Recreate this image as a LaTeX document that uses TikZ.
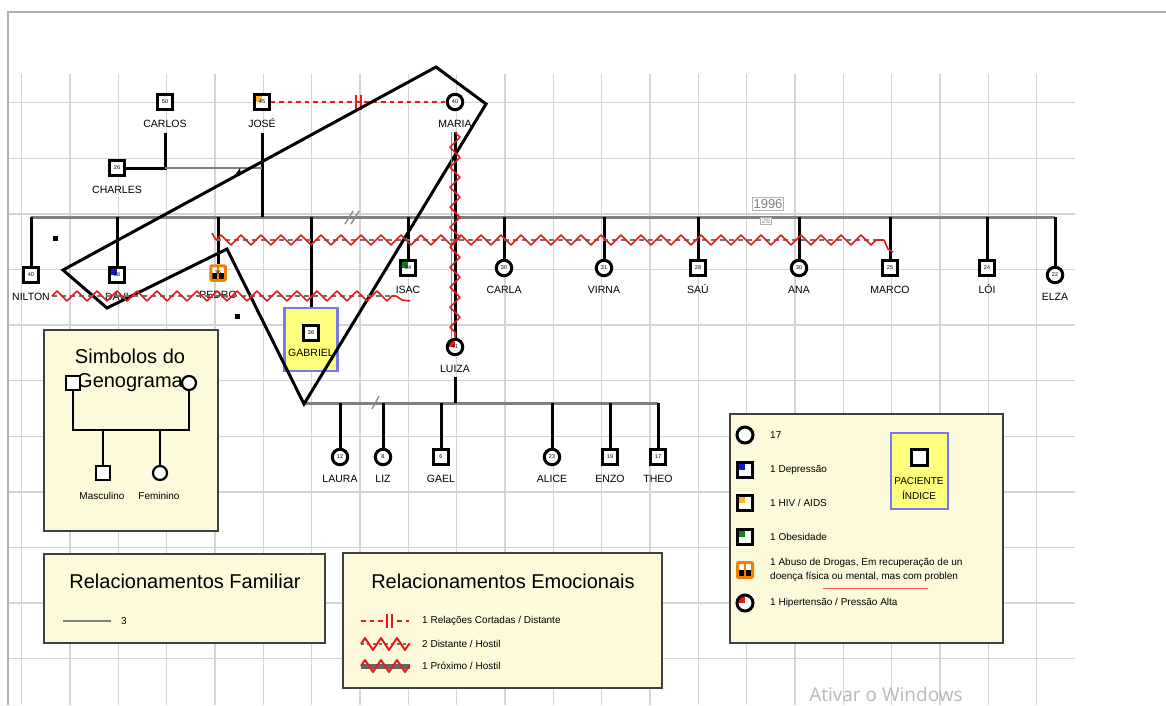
\documentclass[tikz,border=0pt]{standalone}
\usepackage{fontspec}
\setmainfont{Liberation Sans}
\newfontfamily\winfont{Open Sans}
\usetikzlibrary{positioning,decorations.pathmorphing}
\definecolor{cream}{RGB}{253,250,220}
\definecolor{hostred}{RGB}{226,28,28}
\definecolor{hivorange}{RGB}{252,186,40}
\definecolor{drugorange}{RGB}{240,128,8}
\definecolor{deprblue}{RGB}{20,20,210}
\definecolor{obgreen}{RGB}{16,130,30}
\definecolor{idxyellow}{RGB}{255,255,125}
\definecolor{idxblue}{RGB}{120,120,235}
\begin{document}
\begin{tikzpicture}[x=1pt, y=-1pt, font=\fontsize{10}{12}\selectfont,
    gridline/.style={black!17, line width=1.3pt},
    man/.style={draw, line width=3pt, minimum size=14.5pt, inner sep=0pt, fill=white, font=\fontsize{5.5}{5.5}\selectfont},
    woman/.style={man, circle, minimum size=15.5pt},
    quad/.style={path picture={\fill[#1] (path picture bounding box.north west) rectangle (path picture bounding box.center);}},
    manblue/.style={man, quad=deprblue},
    manhiv/.style={man, quad=hivorange},
    mangreen/.style={man, quad=obgreen},
    womanred/.style={woman, quad=hostred},
    drugman/.style={man, draw=drugorange, rounded corners=1pt, path picture={
        \fill[black] (path picture bounding box.west) rectangle (path picture bounding box.south east);
        \draw[drugorange, line width=1.4pt] (path picture bounding box.north) -- (path picture bounding box.south);}},
    lbl/.style={inner sep=1pt, text height=7pt, text depth=0pt, font=\fontsize{10.5}{12}\selectfont},
    child/.style={line width=3pt},
    famline/.style={black!50, line width=3pt},
    zz/.style={decorate, decoration={zigzag, segment length=20pt, amplitude=5pt}},
    hostline/.style={hostred, line width=1.6pt, line join=round},
    distdash/.style={black!55, line width=1.8pt, dash pattern=on 5pt off 4pt},
    cutline/.style={hostred, line width=2.4pt, dash pattern=on 4.5pt off 4pt},
    legbox/.style={draw=black!75, fill=cream, line width=1.3pt, inner sep=0pt},
    idxbox/.style={draw=idxblue, fill=idxyellow, line width=2.8pt, inner sep=0pt},
    title/.style={inner sep=0pt, font=\fontsize{20}{24}\selectfont},
    note/.style={anchor=west, inner sep=0pt, font=\fontsize{10}{14}\selectfont},
    legman/.style={draw, line width=2.2pt, minimum size=14pt, inner sep=0pt, fill=white},
    legwoman/.style={legman, circle}]
  \useasboundingbox (0,0) rectangle (1166,705);
  \fill[white] (0,0) rectangle (1166,705);
  \foreach \k in {0,...,21}
    \draw[gridline] ({21.7+48.33*\k},74) -- ({21.7+48.33*\k},705);
  \foreach \j in {0,...,10}
    \draw[gridline] (8,{102.7+55.6*\j}) -- (1075,{102.7+55.6*\j});
  \draw[black!30, line width=1.5pt] (8,705) -- (8,12) -- (1166,12);

  \node[legbox, minimum width=174pt, minimum height=201pt] (symbox) at (131,430.5) {};
  \node[title] (symt1) at (130,356) {Simbolos do};
  \node[title] (symt2) at (130,383) {Genograma};
  \node[legman] (lgM) at (73,383) {};
  \node[legwoman] (lgF) at (189,383) {};
  \node[legman] (lgm) at (103,473) {};
  \node[legwoman] (lgf) at (160,473) {};
  \coordinate (lgbar) at (130,430);
  \draw[line width=2.2pt] (lgM.south) -- (lgM |- lgbar) -- (lgF |- lgbar) -- (lgF.south);
  \draw[line width=2.2pt] (lgm.north) -- (lgm |- lgbar) (lgf.north) -- (lgf |- lgbar);
  \node[font=\fontsize{10}{12}\selectfont] (lgmt) at (102,496) {Masculino};
  \node[font=\fontsize{10}{12}\selectfont] (lgft) at (159,496) {Feminino};

  \node[legbox, minimum width=281pt, minimum height=89pt] (fambox) at (184.5,598.5) {};
  \node[title] (famt) at (185,581) {Relacionamentos Familiar};
  \coordinate (famk) at (63,621);
  \node[note] (famn) at (121,621) {3};
  \draw[black!50, line width=2.6pt] (famk) -- ++(48,0);

  \node[legbox, minimum width=319pt, minimum height=135pt] (emobox) at (502.5,620.5) {};
  \node[title] (emot) at (503,581) {Relacionamentos Emocionais};
  \draw[cutline] (361,621) -- (383,621) (397,621) -- (409,621);
  \draw[hostred, line width=1.8pt] (387,614) -- (387,628) (392,614) -- (392,628);
  \node[note] (emo1) at (422,621) {1 Relações Cortadas / Distante};
  \draw[distdash, dash pattern=on 3pt off 3pt] (361,644) -- (410,644);
  \draw[hostline, line width=2pt, decorate, decoration={zigzag, segment length=16pt, amplitude=6pt}] (361,644) -- (410,644);
  \node[note] (emo2) at (422,644) {2 Distante / Hostil};
  \draw[black!60, line width=5pt] (361,666) -- (410,666);
  \draw[hostline, line width=2pt, decorate, decoration={zigzag, segment length=16pt, amplitude=6pt}] (361,666) -- (410,666);
  \node[note] (emo3) at (422,666) {1 Próximo / Hostil};

  \node[legbox, minimum width=273pt, minimum height=229pt] (disbox) at (866.5,528.5) {};
  \node[woman, minimum size=16pt] (lw) at (745,435) {};
  \node[note] (lwt) at (770,435) {17};
  \node[manblue, minimum size=15pt] (lb) at (745,470) {};
  \node[note] (lbt) at (770,470) {1 Depressão};
  \node[manhiv, minimum size=15pt] (lh) at (745,503) {};
  \node[note] (lht) at (770,503) {1 HIV / AIDS};
  \node[mangreen, minimum size=15pt] (lg) at (745,537) {};
  \node[note] (lgt) at (770,537) {1 Obesidade};
  \node[drugman, minimum size=15pt] (ld) at (745,570) {};
  \node[note, align=left] (ldt) at (770,570) {1 Abuso de Drogas, Em recuperação de un\\doença física ou mental, mas com problen};
  \draw[red!65, line width=0.9pt] (823,588) -- (928,588);
  \node[womanred, minimum size=16pt] (lr) at (745,603) {};
  \node[note] (lrt) at (770,603) {1 Hipertensão / Pressão Alta};
  \node[idxbox, minimum width=57pt, minimum height=76pt] (idx) at (919.5,471) {};
  \node[man, minimum size=16pt] (idxm) at (919,457) {};
  \node[font=\fontsize{10}{12}\selectfont, inner sep=0pt] (idxt1) at (919,481) {PACIENTE};
  \node[font=\fontsize{10}{12}\selectfont, inner sep=0pt] (idxt2) at (919,495) {ÍNDICE};

  \node[idxbox, minimum width=53pt, minimum height=63pt] (gbox) at (311,339.5) {};
  \node[man] (gabriel) at (311,333) {36};
  \node[lbl, below=7pt of gabriel] (gabriel-t) {GABRIEL};
  \foreach \pn/\x/\y/\st/\ag/\nm in {
      carlos/165/102/man/50/CARLOS,
      jose/262/102/manhiv/45/JOSÉ,
      maria/455/102/woman/40/MARIA,
      charles/117/168/man/26/CHARLES,
      nilton/31/275/man/40/NILTON,
      davi/117/275/manblue/38/DAVI,
      pedro/218/273/drugman/36/PEDRO,
      isac/408/268/mangreen/34/ISAC,
      carla/504/268/woman/30/CARLA,
      virna/604/268/woman/31/VIRNA,
      sau/698/268/man/28/SAÚ,
      ana/799/268/woman/30/ANA,
      marco/890/268/man/25/MARCO,
      loi/987/268/man/24/LÓI,
      elza/1055/275/woman/22/ELZA,
      luiza/455/347/womanred/41/LUIZA,
      laura/340/457/woman/12/LAURA,
      liz/383/457/woman/8/LIZ,
      gael/441/457/man/6/GAEL,
      alice/552/457/woman/23/ALICE,
      enzo/610/457/man/19/ENZO,
      theo/658/457/man/17/THEO}
    {
      \node[\st] (\pn) at (\x,\y) {\ag};
      \node[lbl, below=8.5pt of \pn] (\pn-t) {\nm};
    }

  \coordinate (sibL) at (31,217);
  \coordinate (sibR) at (1055,217);
  \draw[famline] (sibL) -- (sibR);
  \foreach \pn in {nilton,davi,pedro,isac,carla,virna,sau,ana,marco,loi,elza}
    \draw[child] (\pn.north) -- (\pn |- sibL);
  \draw[child] ([yshift=-4pt]jose-t.south) -- (jose-t |- sibL);
  \draw[child] ([yshift=-4pt]carlos-t.south) |- (charles.east);
  \draw[black!50, line width=1.8pt] (carlos-t |- charles) -- (jose-t |- charles);
  \draw[child] (gbox.north) -- (gbox |- sibL);
  \draw[black!45, line width=1.4pt] (345,224) -- (353,211) (351,224) -- (359,211);

  \coordinate (sib2L) at (305,403);
  \coordinate (sib2R) at (658,403);
  \draw[famline] (sib2L) -- (sib2R);
  \draw[child] ([yshift=-3pt]luiza-t.south) -- (luiza-t |- sib2L);
  \foreach \pn in {laura,liz,gael,alice,enzo,theo}
    \draw[child] (\pn.north) -- (\pn |- sib2L);
  \draw[black!45, line width=1.4pt] (372,409) -- (379,396);

  \node[draw=black!30, line width=1pt, fill=white, text=black!50, inner sep=1.5pt, font=\fontsize{13}{13}\selectfont] (year) at (768,204) {1996};
  \node[draw=black!30, line width=0.8pt, fill=white, text=black!45, inner sep=1.2pt, font=\fontsize{7.5}{7.5}\selectfont] (yrs) at (766,221) {26};

  \draw[cutline] (jose.east) -- (maria.west);
  \draw[hostred, line width=1.8pt] (356,95) -- (356,110) (361,95) -- (361,110);

  \draw[line width=3pt, line join=miter] (63,270) -- (436,67) -- (486,104) -- (304,404) -- (227,249) -- (107,308) -- cycle;
  \fill (52.5,235.5) rectangle ++(5,5);
  \fill (235,314) rectangle ++(5,5);
  \fill (235,175) -- (241,175) -- (240,168) -- cycle;

  \draw[black!45, line width=1.6pt] ([xshift=-3.5pt,yshift=-3pt]maria-t.south) -- ([xshift=-3.5pt]luiza.north);
  \draw[child] ([yshift=-3pt]maria-t.south) -- (luiza.north);
  \draw[hostline, zz] ([yshift=-3pt]maria-t.south) -- (luiza.north);

  \coordinate (zzA) at (216,240);
  \coordinate (zzB) at (884,240);
  \draw[distdash] (zzA) -- (zzB);
  \draw[hostline, zz] (zzA) -- (zzB);
  \draw[hostline] (zzA) -- ++(-4,-7);
  \draw[hostline] (zzB) -- ++(4,9) -- ++(5,3);
  \coordinate (zzC) at (52,296);
  \coordinate (zzD) at (396,296);
  \draw[distdash] (zzC) -- (zzD);
  \draw[hostline, zz] (zzC) -- (zzD);
  \draw[hostline] (zzD) -- ++(6,4) -- ++(8,1);

  \node[font={\winfont\fontsize{19}{19}\selectfont}, text=black!28, anchor=base, inner sep=0pt] (win) at (886,701) {Ativar o Windows};
\end{tikzpicture}
\end{document}
